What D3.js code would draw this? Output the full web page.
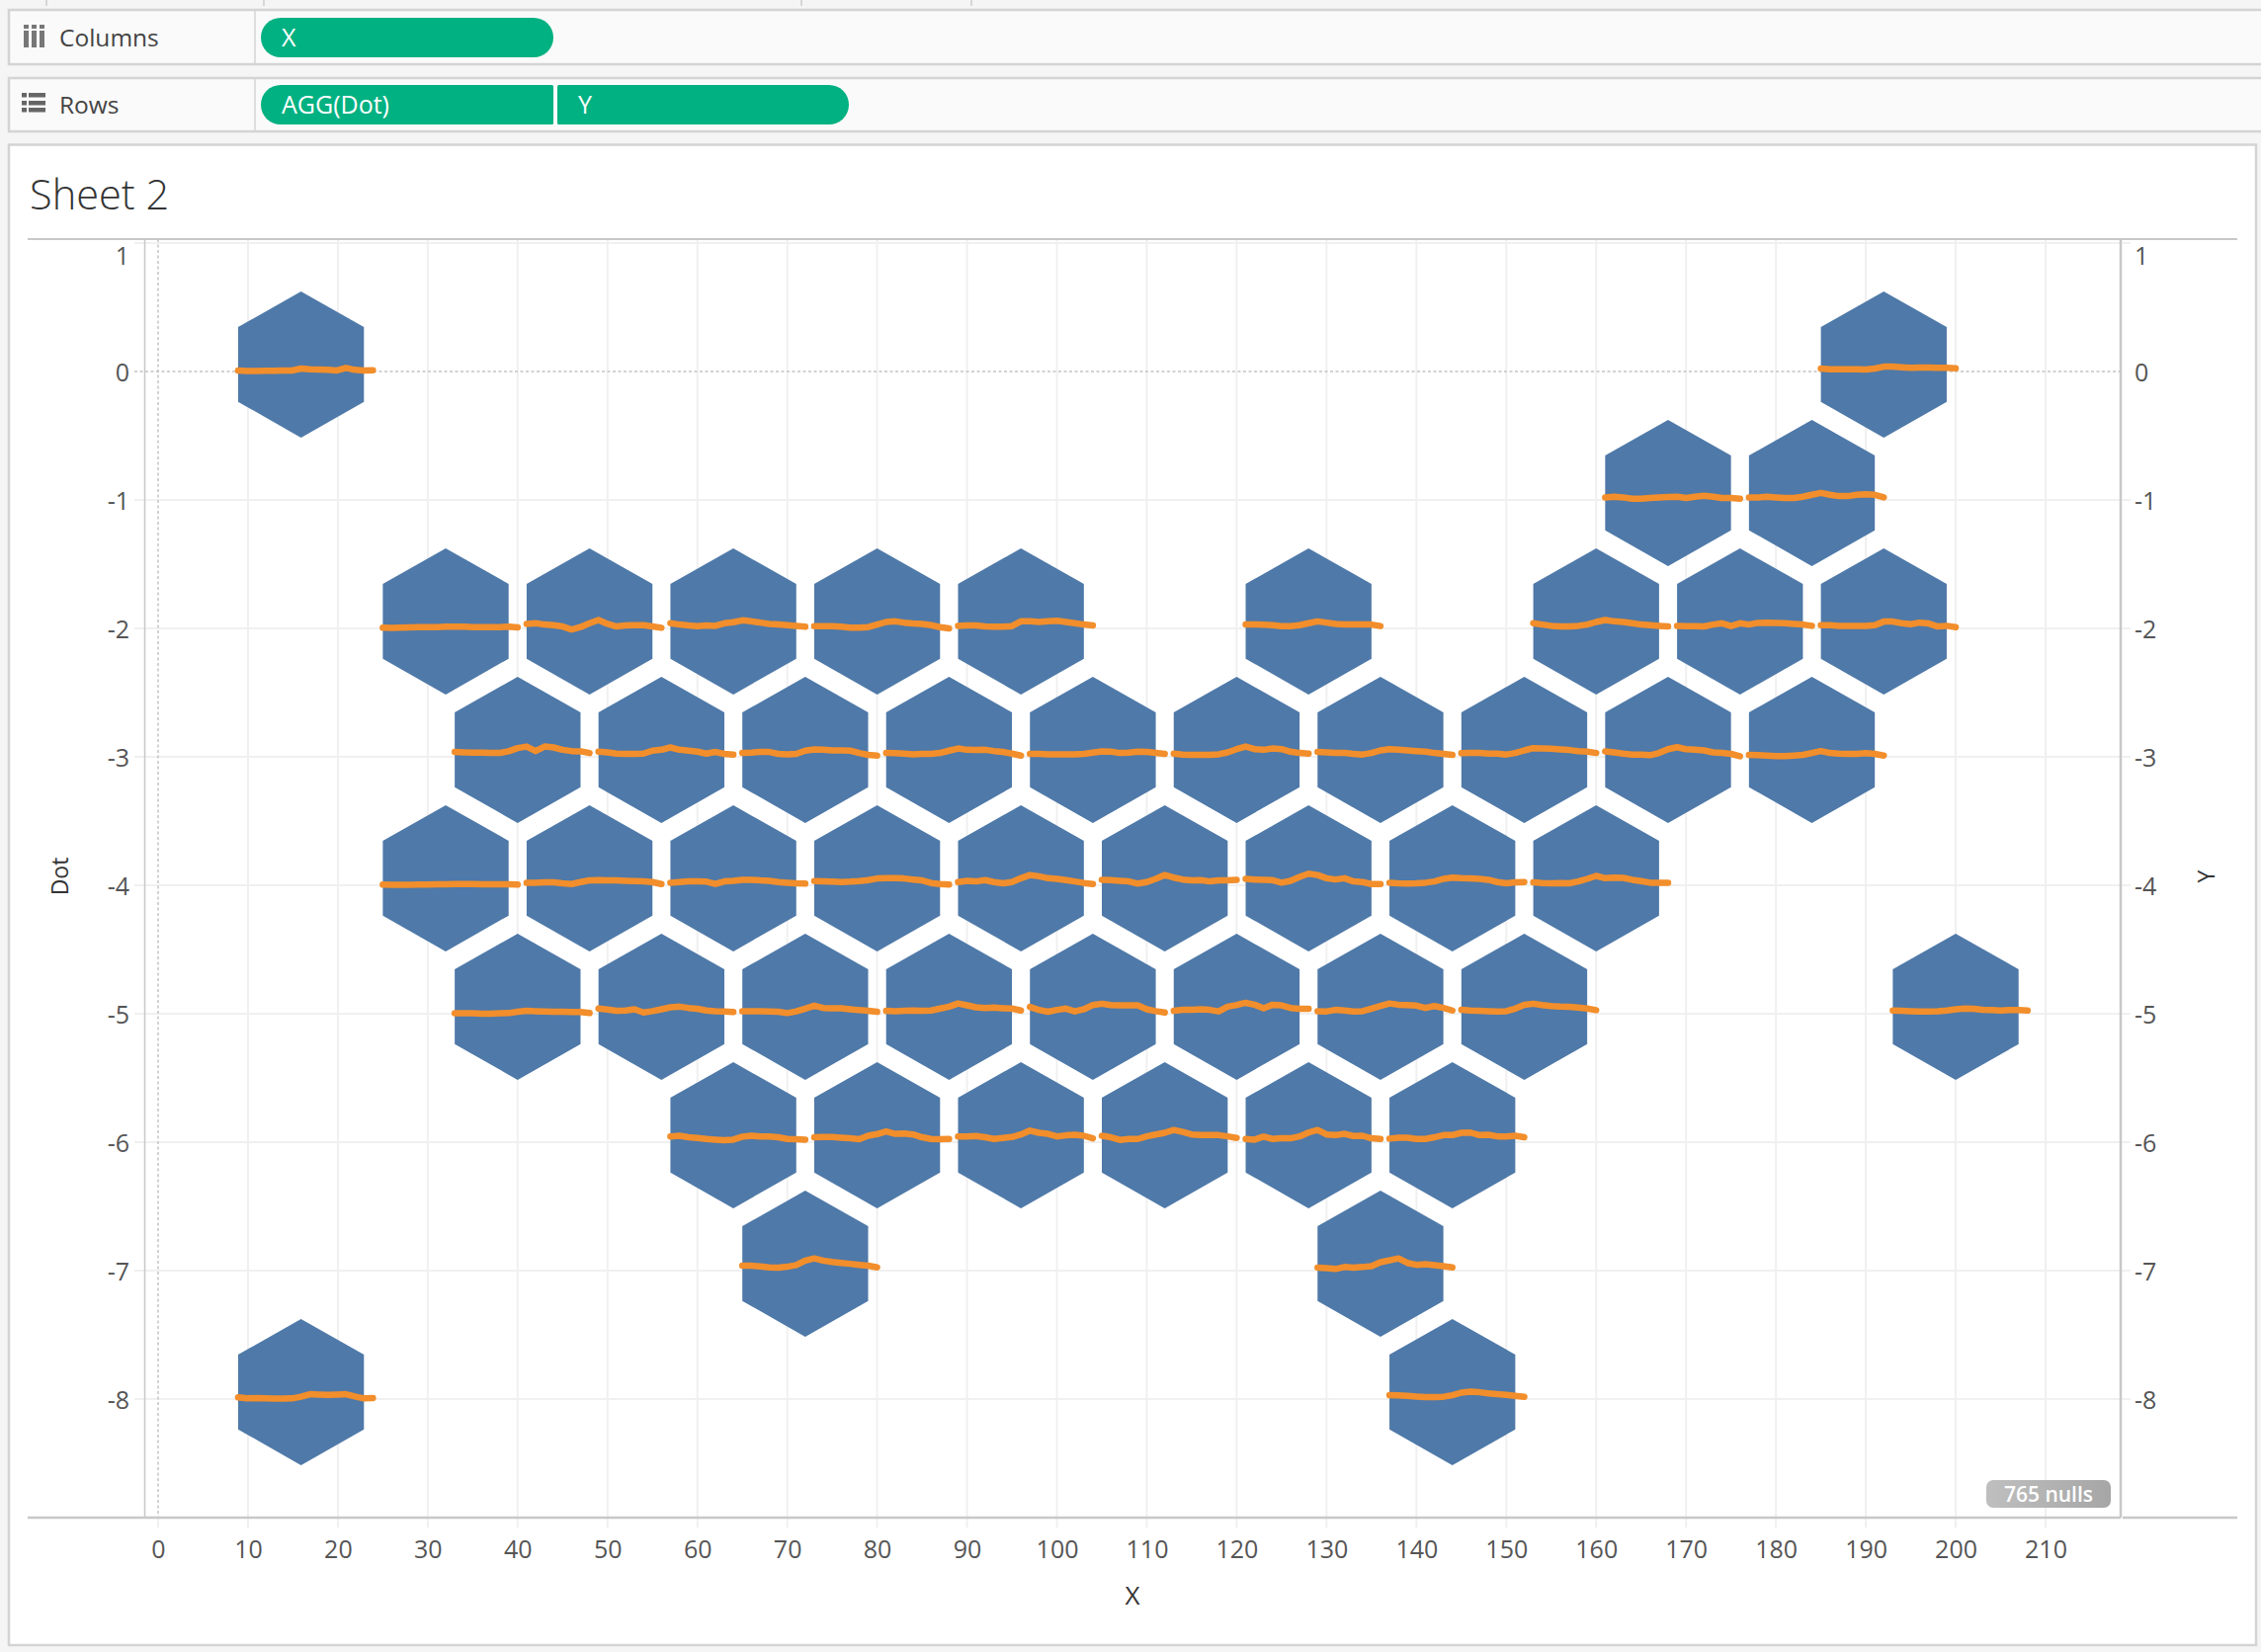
<!DOCTYPE html>
<html>
<head>
<meta charset="utf-8">
<script src="https://cdn.jsdelivr.net/npm/d3@7"></script>
<style>
  html, body { margin: 0; padding: 0; background: #f5f5f5; }
  svg { display: block; }
  text { font-family: "Open Sans", sans-serif; }
</style>
</head>
<body>
<svg id="chart"></svg>
<script>
const width = 2288;
const height = 1672;

// Axis ticks
const xTicks = d3.range(0, 211, 10);
const yTicks = [1, 0, -1, -2, -3, -4, -5, -6, -7, -8];

// Hexagon outline around a centre, in data units
const hexDx = [0, 7, 7, 0, -7, -7];
const hexDy = [0.623, 0.346, -0.236, -0.515, -0.236, 0.346];

// Rows of hexagons: Y value and the X centre of each one
const rowY = [0, -1, -2, -3, -4, -5, -6, -7, -8];
const rowCenters = [
  [15.9, 192],
  [168, 184],
  [32, 48, 64, 80, 96, 128, 160, 176, 192],
  [40, 56, 72, 88, 104, 120, 136, 152, 168, 184],
  [32, 48, 64, 80, 96, 112, 128, 144, 160],
  [40, 56, 72, 88, 104, 120, 136, 152, 200],
  [64, 80, 96, 112, 128, 144],
  [72, 136],
  [15.9, 144]
];

// Orange lines: 16 readings per hexagon (X = centre-7 .. centre+8),
// height above the row value in thousandths of a Y unit
const lift0 = [
  [8,3,3,5,5,8,8,23,18,15,13,8,28,13,8,10],
  [23,18,18,18,18,15,23,38,38,33,28,30,30,28,28,25]
];
const lift1 = [
  [20,25,20,10,10,15,20,23,25,15,25,33,25,15,15,10],
  [20,20,25,20,15,15,25,40,55,40,30,30,40,45,40,20]
];
const lift2 = [
  [5,3,5,8,10,10,10,13,13,13,10,10,10,10,13,8],
  [35,40,30,25,15,-8,10,40,65,35,15,23,25,25,15,5],
  [40,30,23,18,23,20,40,48,63,55,45,35,30,25,20,13],
  [18,18,18,13,5,5,10,30,50,55,45,38,35,25,10,0],
  [20,23,23,15,13,13,18,55,55,50,55,60,50,40,30,23],
  [30,30,28,25,18,18,25,40,55,45,35,30,30,30,30,18],
  [40,30,20,15,15,20,30,50,65,55,50,40,30,25,20,15],
  [20,18,18,15,30,40,18,40,30,43,45,43,40,35,30,20],
  [25,25,20,20,20,20,25,53,53,40,33,45,38,15,20,10]
];
const lift3 = [
  [38,35,33,33,30,30,43,68,80,45,80,73,55,45,43,30],
  [40,35,25,23,23,25,48,55,73,55,48,40,25,38,23,18],
  [30,33,38,38,23,20,23,48,58,55,50,50,48,30,15,10],
  [30,28,25,20,23,23,30,48,65,55,53,55,45,38,25,10],
  [23,23,20,20,20,20,23,33,43,40,30,33,40,38,30,23],
  [25,18,15,15,15,20,35,60,80,60,55,65,60,40,30,25],
  [38,35,30,30,23,18,30,50,60,55,50,45,40,30,23,15],
  [28,30,30,25,25,18,30,50,68,65,63,58,53,45,40,30],
  [43,35,25,18,18,13,30,60,75,60,55,50,35,30,23,5],
  [15,13,10,5,5,10,15,30,45,30,25,23,23,28,23,10]
];
const lift4 = [
  [5,3,3,3,5,5,8,8,10,10,10,8,8,8,8,5],
  [20,20,23,23,15,10,25,38,40,38,38,35,33,30,25,10],
  [20,25,30,30,28,10,30,35,43,43,38,35,25,20,15,13],
  [33,30,28,25,28,33,40,53,55,55,53,45,38,18,10,5],
  [25,35,30,40,25,15,25,55,80,70,55,50,40,30,18,10],
  [43,40,35,30,13,25,50,80,60,45,38,40,30,38,38,43],
  [50,45,43,40,20,35,65,90,80,55,45,55,30,25,10,10],
  [20,15,13,15,20,30,50,60,55,53,50,43,25,15,23,25],
  [23,18,15,18,15,30,50,73,55,60,58,43,33,20,20,20]
];
const lift5 = [
  [3,3,3,0,0,3,5,15,23,20,18,15,15,13,13,5],
  [40,33,23,25,35,10,20,35,50,55,45,38,25,20,18,13],
  [20,20,20,18,15,5,18,40,63,45,43,43,35,28,23,15],
  [23,20,23,25,23,25,40,55,80,65,50,45,48,43,40,25],
  [53,30,15,30,40,18,35,68,78,68,65,65,65,35,20,10],
  [23,30,30,35,30,18,55,68,85,70,43,70,65,45,38,38],
  [20,18,30,25,18,20,40,60,80,70,68,63,45,60,45,25],
  [30,25,23,20,18,20,40,70,78,68,60,55,53,48,40,28],
  [25,23,20,18,18,20,25,35,40,38,30,28,25,28,28,25]
];
const lift6 = [
  [45,50,38,33,25,20,15,20,43,50,45,45,38,25,23,20],
  [38,40,40,35,30,23,50,63,83,65,68,60,38,25,23,25],
  [45,45,48,38,25,33,40,60,90,73,65,45,53,58,50,30],
  [50,38,18,25,25,45,60,73,95,80,60,55,55,55,45,33],
  [25,20,43,25,30,30,45,75,95,60,55,65,48,50,30,25],
  [28,35,35,25,25,38,55,55,73,75,55,58,45,45,50,38]
];
const lift7 = [
  [38,38,33,25,23,30,43,78,95,78,68,60,53,45,38,25],
  [23,20,13,28,23,28,35,65,80,95,60,45,50,43,35,25]
];
const lift8 = [
  [13,5,8,5,3,3,5,18,38,35,33,35,38,20,5,8],
  [30,28,25,20,15,15,18,30,50,58,53,45,38,33,25,18]
];
const rowLifts = [lift0, lift1, lift2, lift3, lift4, lift5, lift6, lift7, lift8];

const colors = {
  page: "#f5f5f5", shelf: "#fafafa", border: "#d4d4d4", pill: "#02b181",
  axis: "#c8c8c8", grid: "#f0f0f0", zero: "#c4c4c4", label: "#555555",
  title: "#333333", hex: "#4f79a8", line: "#f28e2b"
};

const x = d3.scaleLinear().domain([0, 210]).range([160, 2070]);
const y = d3.scaleLinear().domain([0, -8]).range([376, 1416]);

const plot = { left: 146.5, right: 2146, top: 242, bottom: 1536, outerLeft: 28, outerRight: 2264 };

const svg = d3.select("#chart").attr("width", width).attr("height", height);

// ---- toolbar strip and shelves ----
svg.append("rect").attr("width", width).attr("height", height).attr("fill", colors.page);

[47, 267, 811, 983].forEach(d => {
  svg.append("line").attr("x1", d).attr("x2", d).attr("y1", 0).attr("y2", 6)
    .attr("stroke", "#cccccc").attr("stroke-width", 1.5);
});

function shelf(top, bottom, label) {
  svg.append("rect").attr("x", 9).attr("y", top).attr("width", width + 20).attr("height", bottom - top)
    .attr("fill", colors.shelf).attr("stroke", colors.border).attr("stroke-width", 2.5);
  svg.append("line").attr("x1", 258).attr("x2", 258).attr("y1", top).attr("y2", bottom)
    .attr("stroke", colors.border).attr("stroke-width", 1.5);
  svg.append("text").attr("x", 60).attr("y", (top + bottom) / 2 + 9)
    .attr("font-size", 24.5).attr("fill", "#444444").text(label);
}
shelf(10, 65, "Columns");
shelf(79, 133, "Rows");

// columns icon
[24, 32, 40].forEach(d => {
  svg.append("rect").attr("x", d).attr("y", 31).attr("width", 5).attr("height", 17).attr("fill", "#777777");
  svg.append("rect").attr("x", d).attr("y", 25).attr("width", 5).attr("height", 4).attr("fill", "#777777");
});
// rows icon
[94, 102, 109].forEach(d => {
  svg.append("rect").attr("x", 22).attr("y", d).attr("width", 5).attr("height", 4.5).attr("fill", "#666666");
  svg.append("rect").attr("x", 29).attr("y", d).attr("width", 17).attr("height", 4.5).attr("fill", "#666666");
});

function pill(x0, x1, top, bottom, roundLeft, roundRight, label) {
  const r = (bottom - top) / 2;
  const rl = roundLeft ? r : 1.5;
  const rr = roundRight ? r : 1.5;
  const p = d3.path();
  p.moveTo(x0 + rl, top);
  p.lineTo(x1 - rr, top);
  p.arcTo(x1, top, x1, top + rr, rr);
  p.lineTo(x1, bottom - rr);
  p.arcTo(x1, bottom, x1 - rr, bottom, rr);
  p.lineTo(x0 + rl, bottom);
  p.arcTo(x0, bottom, x0, bottom - rl, rl);
  p.lineTo(x0, top + rl);
  p.arcTo(x0, top, x0 + rl, top, rl);
  p.closePath();
  svg.append("path").attr("d", p.toString()).attr("fill", colors.pill);
  svg.append("text").attr("x", x0 + 21).attr("y", (top + bottom) / 2 + 9)
    .attr("font-size", 25).attr("fill", "#ffffff").text(label);
}
pill(264, 560, 18, 58, true, true, "X");
pill(264, 560, 86, 126, true, false, "AGG(Dot)");
pill(564, 859, 86, 126, false, true, "Y");

// ---- worksheet panel ----
svg.append("rect").attr("x", 9).attr("y", 146.5).attr("width", 2274).attr("height", 1518.5)
  .attr("fill", "#ffffff").attr("stroke", colors.border).attr("stroke-width", 2.5);

svg.append("text").attr("x", 30).attr("y", 212)
  .attr("font-size", 41.5).attr("font-weight", 300).attr("fill", "#333333").text("Sheet 2");

// ---- gridlines ----
svg.append("g").selectAll("line").data(xTicks.filter(d => d !== 0)).join("line")
  .attr("x1", d => x(d)).attr("x2", d => x(d))
  .attr("y1", plot.top).attr("y2", plot.bottom + 10)
  .attr("stroke", colors.grid).attr("stroke-width", 2);

svg.append("g").selectAll("line").data(yTicks.filter(d => d !== 0)).join("line")
  .attr("x1", 136).attr("x2", 2156)
  .attr("y1", d => y(d)).attr("y2", d => y(d))
  .attr("stroke", colors.grid).attr("stroke-width", 2);

// zero lines
svg.append("line").attr("x1", x(0)).attr("x2", x(0)).attr("y1", plot.top).attr("y2", plot.bottom)
  .attr("stroke", colors.zero).attr("stroke-width", 1.5).attr("stroke-dasharray", "3 2.5");
svg.append("line").attr("x1", x(0)).attr("x2", x(0)).attr("y1", plot.bottom).attr("y2", plot.bottom + 10)
  .attr("stroke", colors.grid).attr("stroke-width", 2);
svg.append("line").attr("x1", 136).attr("x2", plot.right).attr("y1", y(0)).attr("y2", y(0))
  .attr("stroke", colors.zero).attr("stroke-width", 1.5).attr("stroke-dasharray", "3 2.5");

// ---- axes ----
function styleAxis(g) {
  g.select(".domain").remove();
  g.selectAll(".tick line").remove();
  g.selectAll(".tick text").attr("fill", colors.label).attr("font-size", 25)
    .attr("font-family", '"Open Sans", sans-serif');
}

svg.append("g").attr("transform", `translate(0,${plot.bottom + 15})`)
  .call(d3.axisBottom(x).tickValues(xTicks).tickFormat(String).tickSize(0).tickPadding(8))
  .call(styleAxis);

// top label is pushed down so it stays inside the pane
const yLabelOffset = d => (d === 1 ? 13 : 1);

svg.append("g").attr("transform", "translate(135,0)")
  .call(d3.axisLeft(y).tickValues(yTicks).tickFormat(String).tickSize(0).tickPadding(4))
  .call(styleAxis)
  .call(g => g.selectAll(".tick text").attr("y", yLabelOffset));

svg.append("g").attr("transform", "translate(2156,0)")
  .call(d3.axisRight(y).tickValues(yTicks).tickFormat(String).tickSize(0).tickPadding(4))
  .call(styleAxis)
  .call(g => g.selectAll(".tick text").attr("y", yLabelOffset));

// frame lines
const frame = [
  [plot.outerLeft, plot.outerRight, plot.top, plot.top, 2],
  [plot.outerLeft, plot.right, plot.bottom, plot.bottom, 2.5],
  [plot.right + 2, plot.outerRight, plot.bottom, plot.bottom, 2.5],
  [plot.left, plot.left, plot.top, plot.bottom, 1.5],
  [plot.right, plot.right, plot.top, plot.bottom, 2.5]
];
svg.append("g").selectAll("line").data(frame).join("line")
  .attr("x1", d => d[0]).attr("x2", d => d[1]).attr("y1", d => d[2]).attr("y2", d => d[3])
  .attr("stroke", colors.axis).attr("stroke-width", d => d[4]);

// axis titles
svg.append("text").attr("transform", "translate(68.5,887) rotate(-90)").attr("text-anchor", "middle")
  .attr("font-size", 23).attr("fill", colors.title).text("Dot");
svg.append("text").attr("transform", "translate(2241,887) rotate(-90)").attr("text-anchor", "middle")
  .attr("font-size", 23).attr("fill", colors.title).text("Y");
svg.append("text").attr("x", 1146).attr("y", 1624).attr("text-anchor", "middle")
  .attr("font-size", 26).attr("fill", colors.title).text("X");

// ---- marks ----
const hexes = rowY.flatMap((row, i) => rowCenters[i].map((c, j) => ({ row, c, lift: rowLifts[i][j] })));

const hexLine = d3.line().x(d => x(d[0])).y(d => y(d[1]));
svg.append("g").selectAll("path").data(hexes).join("path")
  .attr("d", d => hexLine(hexDx.map((dx, k) => [d.c + dx, d.row + hexDy[k]])) + "Z")
  .attr("fill", colors.hex);

const wiggle = d3.line().x(d => x(d[0])).y(d => y(d[1])).curve(d3.curveLinear);
svg.append("g").selectAll("path").data(hexes).join("path")
  .attr("d", d => wiggle(d.lift.map((v, k) => [d.c - 7 + k, d.row + v / 1000])))
  .attr("fill", "none").attr("stroke", colors.line).attr("stroke-width", 6.5)
  .attr("stroke-linecap", "round").attr("stroke-linejoin", "round");

// ---- nulls badge ----
const grad = svg.append("defs").append("linearGradient").attr("id", "nulls-grad")
  .attr("x1", "0%").attr("x2", "100%");
grad.append("stop").attr("offset", "0%").attr("stop-color", "#bfbfbf");
grad.append("stop").attr("offset", "100%").attr("stop-color", "#a6a6a6");
svg.append("rect").attr("x", 2010).attr("y", 1498).attr("width", 126).attr("height", 28).attr("rx", 7)
  .attr("fill", "url(#nulls-grad)");
svg.append("text").attr("x", 2073).attr("y", 1520).attr("text-anchor", "middle")
  .attr("font-size", 21).attr("font-weight", 600).attr("fill", "#ffffff").text("765 nulls");
</script>
</body>
</html>
